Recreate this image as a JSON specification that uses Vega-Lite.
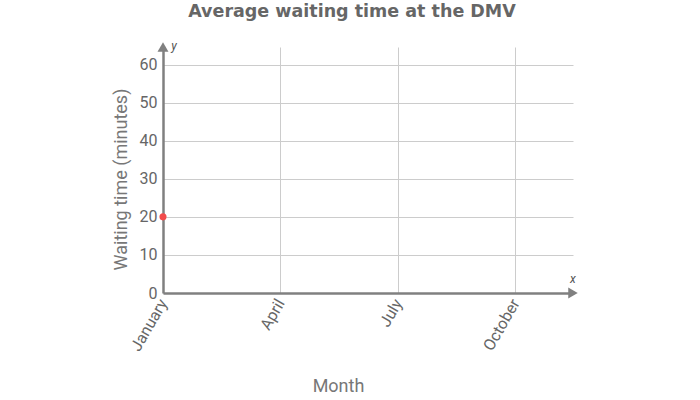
{
  "$schema": "https://vega.github.io/schema/vega-lite/v6.json",
  "autosize": "none",
  "width": 410,
  "height": 246,
  "padding": {"left": 163, "top": 47, "right": 127, "bottom": 107},
  "background": "white",
  "title": {
    "text": "Average waiting time at the DMV",
    "font": "DejaVu Sans",
    "fontSize": 17.5,
    "fontWeight": "bold",
    "color": "#666666",
    "offset": 20,
    "dx": -16
  },
  "config": {
    "view": {"stroke": null},
    "axis": {
      "labelFont": "Roboto",
      "titleFont": "Roboto",
      "labelFontSize": 16,
      "titleFontSize": 18,
      "labelColor": "#666666",
      "titleColor": "#777777",
      "titleFontWeight": "normal",
      "domainColor": "#808080",
      "domainWidth": 2.5,
      "ticks": false,
      "gridColor": "#cccccc",
      "gridWidth": 1
    }
  },
  "layer": [
    {
      "data": {"values": [{"month": 0, "time": 20}]},
      "mark": {"type": "point", "filled": true, "color": "#f24b4b", "size": 50, "opacity": 1},
      "encoding": {
        "x": {
          "field": "month",
          "type": "quantitative",
          "scale": {"domain": [0, 10.47], "nice": false, "zero": false},
          "axis": {
            "title": "Month",
            "values": [0, 3, 6, 9],
            "labelExpr": "datum.value == 0 ? 'January' : datum.value == 3 ? 'April' : datum.value == 6 ? 'July' : 'October'",
            "labelAngle": -60,
            "labelAlign": "right",
            "labelBaseline": "middle",
            "labelPadding": 7,
            "titleX": 175,
            "titlePadding": 24
          }
        },
        "y": {
          "field": "time",
          "type": "quantitative",
          "scale": {"domain": [0, 64.6], "nice": false},
          "axis": {
            "title": "Waiting time (minutes)",
            "values": [0, 10, 20, 30, 40, 50, 60],
            "labelPadding": 6,
            "titleY": 132,
            "titlePadding": 9
          }
        }
      }
    },
    {
      "data": {"values": [{"month": 0, "time": 64.6, "label": "y"}]},
      "mark": {"type": "point", "shape": "triangle-up", "filled": true, "color": "#808080", "size": 120, "opacity": 1, "dy": -2},
      "encoding": {
        "x": {"field": "month", "type": "quantitative"},
        "y": {"field": "time", "type": "quantitative"}
      }
    },
    {
      "data": {"values": [{"month": 10.47, "time": 0, "label": "x"}]},
      "mark": {"type": "point", "shape": "triangle-right", "filled": true, "color": "#808080", "size": 120, "opacity": 1},
      "encoding": {
        "x": {"field": "month", "type": "quantitative"},
        "y": {"field": "time", "type": "quantitative"}
      }
    },
    {
      "data": {"values": [{"month": 0, "time": 64.6, "label": "y"}]},
      "mark": {"type": "text", "font": "Roboto", "fontSize": 12, "fontStyle": "italic", "color": "#555555", "dx": 11, "dy": -1},
      "encoding": {
        "x": {"field": "month", "type": "quantitative"},
        "y": {"field": "time", "type": "quantitative"},
        "text": {"field": "label"}
      }
    },
    {
      "data": {"values": [{"month": 10.47, "time": 0, "label": "x"}]},
      "mark": {"type": "text", "font": "Roboto", "fontSize": 12, "fontStyle": "italic", "color": "#555555", "dx": 0, "dy": -14},
      "encoding": {
        "x": {"field": "month", "type": "quantitative"},
        "y": {"field": "time", "type": "quantitative"},
        "text": {"field": "label"}
      }
    }
  ]
}
